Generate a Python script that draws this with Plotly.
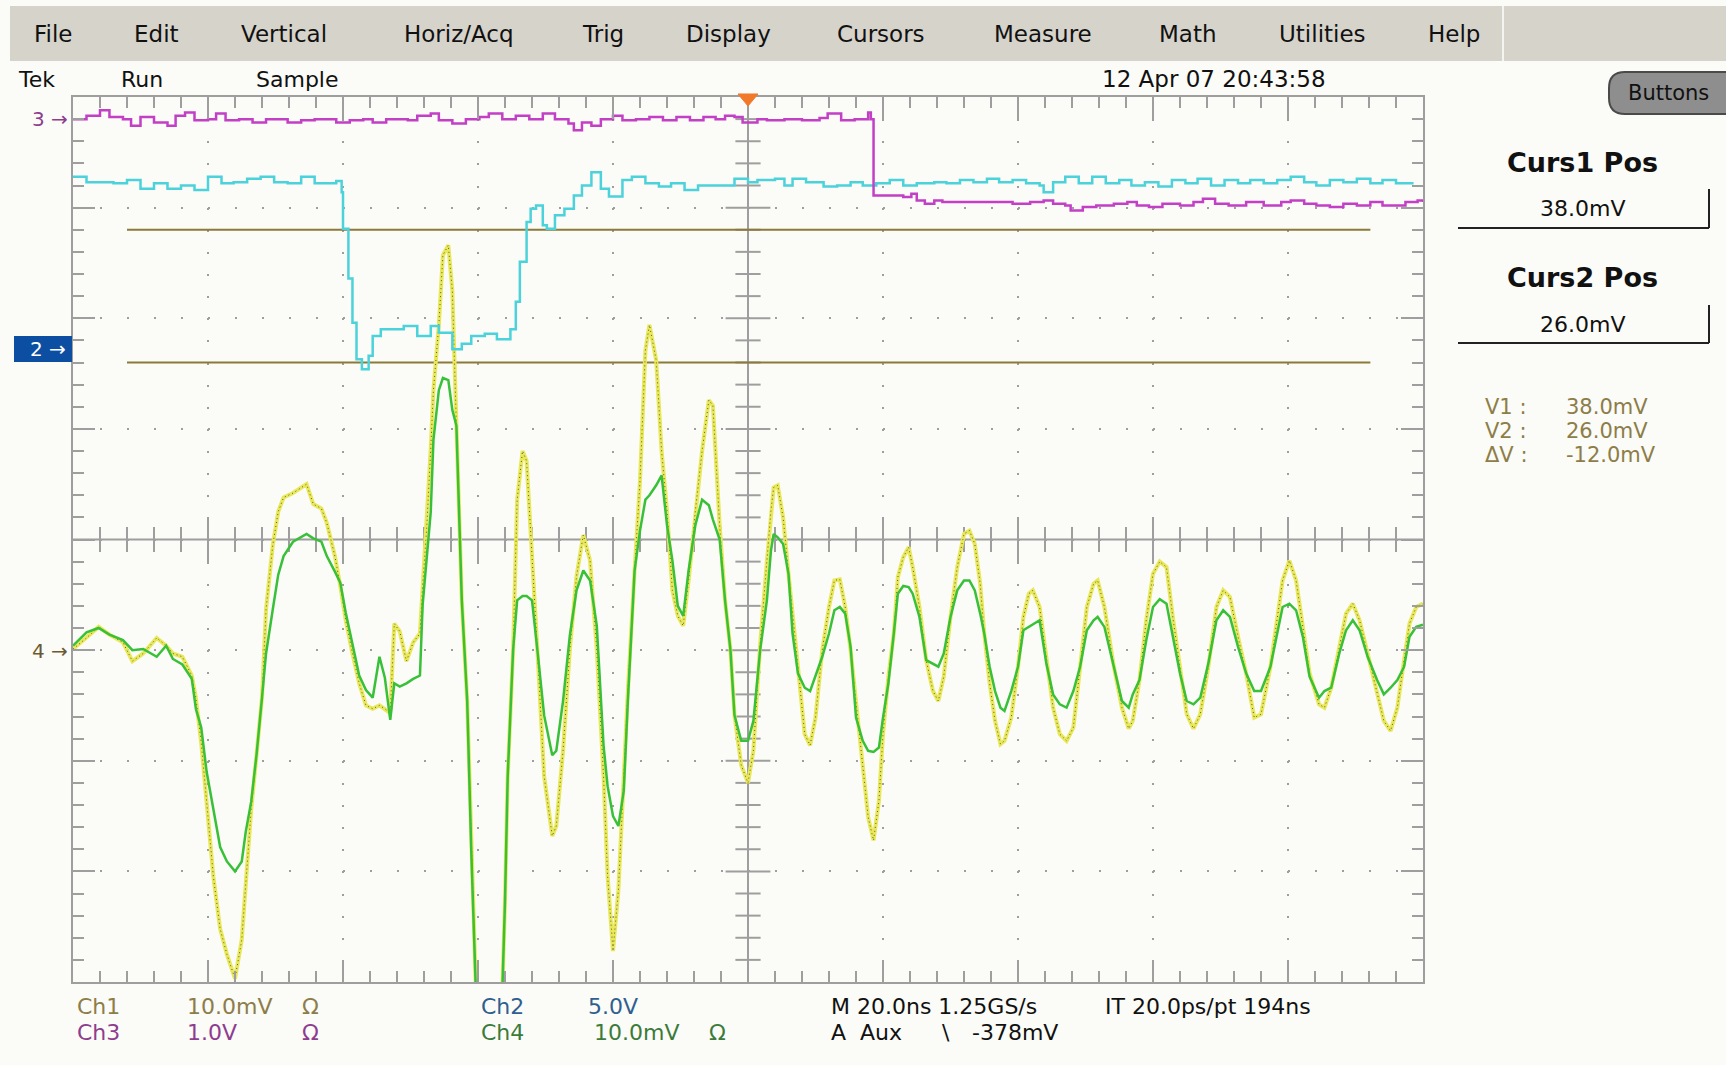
import plotly.graph_objects as go

# ---------------- data (time in screen divisions 0..10, amplitude in screen divisions) -------------
ch1_t = [0.00,0.10,0.19,0.27,0.37,0.44,0.52,0.62,0.69,0.74,
         0.81,0.88,0.91,0.95,0.99,1.04,1.09,1.14,1.20,1.25,
         1.28,1.32,1.36,1.40,1.43,1.48,1.52,1.56,1.63,1.73,
         1.78,1.84,1.88,1.94,1.98,2.02,2.07,2.12,2.17,2.22,
         2.27,2.31,2.35,2.38,2.42,2.47,2.52,2.57,2.59,2.62,
         2.65,2.67,2.71,2.74,2.78,2.81,2.84,2.88,2.92,2.95,
         2.99,3.05,3.13,3.17,3.20,3.22,3.26,3.29,3.33,3.36,
         3.40,3.44,3.49,3.55,3.58,3.63,3.68,3.73,3.78,3.83,
         3.88,3.93,3.96,4.00,4.04,4.08,4.11,4.16,4.20,4.24,
         4.27,4.32,4.36,4.40,4.44,4.48,4.52,4.56,4.61,4.66,
         4.71,4.74,4.79,4.83,4.87,4.90,4.95,5.00,5.04,5.09,
         5.14,5.17,5.19,5.22,5.26,5.30,5.33,5.37,5.42,5.46,
         5.50,5.55,5.60,5.64,5.68,5.72,5.76,5.80,5.85,5.89,
         5.93,5.97,6.00,6.04,6.08,6.11,6.15,6.19,6.22,6.27,
         6.32,6.37,6.41,6.45,6.50,6.55,6.60,6.64,6.68,6.72,
         6.75,6.79,6.83,6.87,6.90,6.95,7.00,7.04,7.08,7.11,
         7.16,7.21,7.26,7.31,7.36,7.41,7.46,7.51,7.56,7.59,
         7.64,7.71,7.77,7.82,7.85,7.90,7.95,8.00,8.05,8.10,
         8.15,8.20,8.25,8.30,8.35,8.41,8.47,8.52,8.57,8.63,
         8.69,8.75,8.80,8.87,8.92,8.96,9.01,9.06,9.11,9.16,
         9.23,9.27,9.32,9.38,9.43,9.48,9.53,9.59,9.66,9.71,
         9.76,9.81,9.86,9.90,9.95,10.0]
ch1_v = [-0.99,-0.89,-0.79,-0.86,-0.93,-1.10,-1.03,-0.89,-0.96,-1.03,
         -1.06,-1.23,-1.43,-1.84,-2.37,-3.05,-3.52,-3.75,-3.97,-3.62,
         -3.11,-2.44,-1.94,-1.43,-0.63,-0.05,0.25,0.38,0.42,0.50,
         0.32,0.28,0.15,-0.15,-0.42,-0.73,-1.03,-1.30,-1.50,-1.53,
         -1.50,-1.53,-1.57,-0.76,-0.83,-1.10,-0.93,-0.85,-0.42,0.10,
         0.82,1.35,1.94,2.57,2.66,2.25,1.03,-0.55,-1.46,-2.81,
         -4.3,-5.0,-5.0,-4.5,-3.27,-2.14,-1.00,0.36,0.80,0.71,
         -0.10,-1.00,-2.14,-2.68,-2.59,-1.91,-1.00,-0.33,0.04,-0.19,
         -1.00,-2.14,-3.04,-3.72,-3.17,-2.14,-1.37,-0.28,0.53,1.71,
         1.94,1.62,0.80,0.26,-0.46,-0.69,-0.78,-0.37,0.26,0.80,
         1.26,1.21,0.13,-0.55,-1.00,-1.59,-2.04,-2.20,-1.91,-0.95,
         -0.20,0.26,0.47,0.49,0.20,-0.31,-0.70,-1.15,-1.76,-1.86,
         -1.61,-1.00,-0.61,-0.37,-0.36,-0.61,-1.00,-1.46,-2.06,-2.51,
         -2.72,-2.36,-1.76,-1.24,-0.85,-0.34,-0.16,-0.07,-0.25,-0.61,
         -1.09,-1.37,-1.46,-1.24,-0.70,-0.25,0.05,0.08,-0.04,-0.40,
         -0.85,-1.30,-1.64,-1.85,-1.82,-1.61,-1.15,-0.70,-0.49,-0.46,
         -0.61,-1.09,-1.52,-1.76,-1.82,-1.70,-1.15,-0.61,-0.40,-0.37,
         -0.61,-1.15,-1.52,-1.71,-1.64,-1.27,-0.73,-0.31,-0.20,-0.25,
         -0.73,-1.18,-1.58,-1.71,-1.58,-1.15,-0.61,-0.46,-0.52,-0.88,
         -1.21,-1.61,-1.58,-1.15,-0.73,-0.37,-0.19,-0.37,-0.79,-1.21,
         -1.49,-1.52,-1.34,-0.97,-0.67,-0.58,-0.73,-1.03,-1.40,-1.64,
         -1.73,-1.52,-1.09,-0.76,-0.61,-0.58]
ch4_t = ch1_t
ch4_v = [-0.96,-0.84,-0.80,-0.86,-0.91,-1.00,-0.99,-1.06,-0.96,-1.08,
         -1.13,-1.26,-1.53,-1.70,-2.10,-2.44,-2.78,-2.91,-3.00,-2.91,
         -2.64,-2.37,-1.94,-1.43,-1.03,-0.63,-0.32,-0.15,-0.02,0.05,
         0.01,-0.02,-0.15,-0.29,-0.39,-0.66,-0.96,-1.23,-1.36,-1.43,
         -1.06,-1.25,-1.63,-1.30,-1.33,-1.30,-1.26,-1.23,-0.59,-0.20,
         0.25,0.90,1.35,1.46,1.44,1.17,1.03,-0.55,-1.46,-2.81,
         -4.3,-5.0,-5.0,-4.5,-3.27,-2.14,-1.00,-0.55,-0.51,-0.51,
         -0.55,-1.00,-1.59,-1.95,-1.91,-1.46,-0.87,-0.46,-0.28,-0.37,
         -0.78,-1.86,-2.23,-2.50,-2.59,-2.27,-1.46,-0.28,0.08,0.36,
         0.40,0.49,0.58,0.13,-0.19,-0.60,-0.69,-0.28,0.13,0.36,
         0.31,0.18,0.00,-0.55,-1.00,-1.59,-1.82,-1.82,-1.64,-1.00,
         -0.55,-0.10,0.05,0.02,-0.04,-0.31,-0.85,-1.21,-1.34,-1.37,
         -1.24,-1.06,-0.85,-0.64,-0.61,-0.67,-0.97,-1.61,-1.82,-1.91,
         -1.92,-1.88,-1.61,-1.30,-0.85,-0.49,-0.42,-0.43,-0.49,-0.70,
         -1.09,-1.12,-1.15,-1.03,-0.70,-0.46,-0.37,-0.37,-0.46,-0.67,
         -0.85,-1.15,-1.37,-1.52,-1.55,-1.37,-1.15,-0.82,-0.79,-0.76,
         -0.73,-1.12,-1.40,-1.49,-1.52,-1.37,-1.15,-0.82,-0.73,-0.70,
         -0.79,-1.15,-1.46,-1.52,-1.40,-1.27,-0.91,-0.61,-0.54,-0.58,
         -0.88,-1.21,-1.46,-1.49,-1.43,-1.12,-0.73,-0.64,-0.70,-0.97,
         -1.21,-1.37,-1.37,-1.15,-0.85,-0.61,-0.58,-0.64,-0.88,-1.24,
         -1.43,-1.37,-1.34,-1.03,-0.82,-0.73,-0.82,-1.06,-1.27,-1.40,
         -1.34,-1.27,-1.15,-0.88,-0.79,-0.77]
ch3_t = [0.00,0.10,0.20,0.27,0.37,0.43,0.50,0.60,0.70,0.76,
         0.83,0.90,1.00,1.06,1.13,1.23,1.33,1.43,1.52,1.59,
         1.69,1.79,1.89,1.95,2.05,2.15,2.22,2.32,2.42,2.48,
         2.55,2.65,2.71,2.81,2.91,3.01,3.08,3.18,3.28,3.38,
         3.48,3.57,3.67,3.71,3.77,3.84,3.91,4.00,4.07,4.17,
         4.27,4.37,4.47,4.57,4.67,4.76,4.83,4.90,4.96,5.07,
         5.14,5.27,5.40,5.53,5.59,5.69,5.79,5.89,5.91,5.93,
         6.05,6.15,6.21,6.25,6.31,6.38,6.44,6.57,6.70,6.83,
         6.96,7.09,7.19,7.26,7.35,7.39,7.48,7.58,7.71,7.81,
         7.88,7.97,8.07,8.20,8.30,8.37,8.46,8.56,8.69,8.82,
         8.95,9.02,9.12,9.21,9.31,9.41,9.51,9.61,9.70,9.80,
         9.87,9.96,10.0]
ch3_v = [3.80,3.83,3.88,3.82,3.80,3.74,3.82,3.77,3.74,3.83,
         3.86,3.79,3.80,3.85,3.79,3.80,3.77,3.80,3.80,3.77,
         3.79,3.80,3.80,3.77,3.79,3.80,3.77,3.80,3.80,3.79,
         3.83,3.85,3.79,3.76,3.80,3.82,3.85,3.80,3.83,3.80,
         3.85,3.80,3.76,3.70,3.77,3.74,3.80,3.83,3.79,3.80,
         3.82,3.79,3.82,3.79,3.82,3.80,3.83,3.82,3.77,3.80,
         3.79,3.80,3.79,3.81,3.85,3.79,3.80,3.86,3.80,3.11,
         3.11,3.095,3.125,3.065,3.035,3.065,3.05,3.05,3.05,3.05,
         3.035,3.05,3.065,3.035,3.02,2.975,3.005,3.02,3.035,3.05,
         3.02,3.005,3.035,3.02,3.05,3.08,3.035,3.02,3.05,3.02,
         3.05,3.065,3.035,3.02,3.005,3.035,3.02,3.05,3.02,3.02,
         3.05,3.065,3.05]
ch2_t = [0.00,0.10,0.20,0.30,0.40,0.50,0.60,0.70,0.80,0.90,
         1.00,1.10,1.19,1.29,1.39,1.49,1.59,1.69,1.79,1.89,
         1.95,1.99,2.00,2.04,2.07,2.10,2.14,2.19,2.22,2.28,
         2.38,2.45,2.55,2.65,2.71,2.81,2.88,2.95,3.05,3.14,
         3.21,3.24,3.28,3.31,3.36,3.39,3.43,3.48,3.51,3.57,
         3.64,3.71,3.77,3.84,3.91,3.97,4.07,4.14,4.24,4.34,
         4.43,4.53,4.63,4.73,4.83,4.90,5.00,5.07,5.20,5.27,
         5.33,5.43,5.56,5.66,5.76,5.85,5.95,6.05,6.15,6.25,
         6.38,6.47,6.57,6.67,6.77,6.86,6.96,7.06,7.16,7.19,
         7.26,7.35,7.45,7.55,7.65,7.75,7.84,7.94,8.04,8.14,
         8.24,8.33,8.43,8.53,8.63,8.72,8.82,8.92,9.02,9.12,
         9.21,9.31,9.41,9.51,9.61,9.70,9.80,9.93]
ch2_v = [3.28,3.23,3.23,3.22,3.25,3.17,3.22,3.17,3.20,3.16,
         3.28,3.22,3.23,3.26,3.28,3.23,3.22,3.28,3.22,3.22,
         3.24,3.14,2.81,2.36,1.96,1.63,1.54,1.66,1.84,1.90,
         1.90,1.93,1.84,1.93,1.87,1.72,1.77,1.84,1.86,1.81,
         1.81,1.90,2.15,2.51,2.87,2.99,3.02,2.84,2.81,2.93,
         2.99,3.11,3.20,3.32,3.17,3.10,3.25,3.28,3.22,3.19,
         3.22,3.16,3.20,3.20,3.20,3.26,3.23,3.25,3.26,3.20,
         3.26,3.23,3.19,3.20,3.23,3.20,3.22,3.25,3.20,3.22,
         3.23,3.22,3.25,3.23,3.26,3.23,3.25,3.22,3.20,3.14,
         3.23,3.28,3.22,3.28,3.22,3.25,3.20,3.23,3.19,3.25,
         3.22,3.26,3.20,3.25,3.22,3.25,3.22,3.25,3.28,3.23,
         3.20,3.25,3.23,3.26,3.22,3.25,3.22,3.22]

cursor_levels = [2.8, 1.6]          # Curs1 (38.0 mV) and Curs2 (26.0 mV) on Ch1
cursor_span = [0.4, 9.61]

menu_items = ["File", "Edit", "Vertical", "Horiz/Acq", "Trig", "Display",
              "Cursors", "Measure", "Math", "Utilities", "Help"]
menu_x = [53, 156, 284, 459, 603, 728, 881, 1043, 1188, 1322, 1454]

# ---------------- geometry helpers ----------------
W, H = 1726, 1065
PL, PR, PT, PB = 73, 1423, 97, 982


def px(x):
    return (x - PL) / (PR - PL)


def py(y):
    return (PB - y) / (PB - PT)


GRID = "#9e9e9e"
FONT = "DejaVu Sans"

fig = go.Figure()

# center crosshair with ticks
fig.add_trace(go.Scatter(x=[0, 10], y=[0, 0], mode="lines", line=dict(color=GRID, width=2), hoverinfo="skip"))
fig.add_trace(go.Scatter(x=[5, 5], y=[-4, 4], mode="lines", line=dict(color=GRID, width=2), hoverinfo="skip"))
minor_x = [i * 0.2 for i in range(1, 50) if i % 5]
major_x = [float(i) for i in range(1, 10) if i != 5]
minor_y = [-4 + i * 0.2 for i in range(1, 40) if i % 5]
major_y = [float(i) for i in range(-3, 4) if i != 0]
tick_mk = dict(color=GRID, line=dict(color=GRID, width=2))
fig.add_trace(go.Scatter(x=minor_x, y=[0] * len(minor_x), mode="markers",
                         marker=dict(symbol="line-ns", size=18, **tick_mk), hoverinfo="skip"))
fig.add_trace(go.Scatter(x=major_x, y=[0] * len(major_x), mode="markers",
                         marker=dict(symbol="line-ns", size=32, **tick_mk), hoverinfo="skip"))
fig.add_trace(go.Scatter(x=[5] * len(minor_y), y=minor_y, mode="markers",
                         marker=dict(symbol="line-ew", size=18, **tick_mk), hoverinfo="skip"))
fig.add_trace(go.Scatter(x=[5] * len(major_y), y=major_y, mode="markers",
                         marker=dict(symbol="line-ew", size=32, **tick_mk), hoverinfo="skip"))

# cursors
for lv in cursor_levels:
    fig.add_trace(go.Scatter(x=cursor_span, y=[lv, lv], mode="lines",
                             line=dict(color="#8b7a3a", width=2), hoverinfo="skip"))

# waveforms
fig.add_trace(go.Scatter(x=ch1_t, y=ch1_v, mode="lines", line=dict(color="#e8e85a", width=4), name="Ch1"))
fig.add_trace(go.Scatter(x=ch1_t, y=ch1_v, mode="lines", line=dict(color="#5c5c30", width=1, dash="1px,3px"), hoverinfo="skip"))
fig.add_trace(go.Scatter(x=ch2_t, y=ch2_v, mode="lines", line=dict(color="#4cd2da", width=2.5, shape="hv"), name="Ch2"))
fig.add_trace(go.Scatter(x=ch3_t, y=ch3_v, mode="lines", line=dict(color="#c23fc6", width=2.5, shape="hv"), name="Ch3"))
fig.add_trace(go.Scatter(x=ch4_t, y=ch4_v, mode="lines", line=dict(color="#38c038", width=2.5), name="Ch4"))

ax_common = dict(showticklabels=False, ticks="inside", tickwidth=2, tickcolor=GRID, ticklen=22,
                 showline=True, linecolor=GRID, linewidth=2, mirror="ticks", zeroline=False,
                 showgrid=True, gridcolor=GRID, gridwidth=2, dtick=1, tick0=0, fixedrange=True)
fig.update_xaxes(range=[0, 10], griddash="2px,20.125px",
                 minor=dict(dtick=0.2, tick0=0, ticks="inside", ticklen=11, tickwidth=2, tickcolor=GRID, showgrid=False),
                 **ax_common)
fig.update_yaxes(range=[-4, 4], griddash="2px,25px",
                 minor=dict(dtick=0.2, tick0=0, ticks="inside", ticklen=11, tickwidth=2, tickcolor=GRID, showgrid=False),
                 **ax_common)

shapes = []
ann = []


def txt(x, y, s, size=22, color="#111111", anchor="left", bold=False):
    ann.append(dict(xref="paper", yref="paper", x=px(x), y=py(y), text=("<b>%s</b>" % s) if bold else s,
                    showarrow=False, xanchor=anchor, yanchor="middle",
                    font=dict(family=FONT, size=size, color=color)))


def rect(x0, y0, x1, y1, fill, line=None, lw=0):
    shapes.append(dict(type="rect", xref="paper", yref="paper", x0=px(x0), x1=px(x1), y0=py(y1), y1=py(y0),
                       fillcolor=fill, line=dict(color=line or fill, width=lw), layer="above"))


def seg(x0, y0, x1, y1, color, w=2):
    shapes.append(dict(type="line", xref="paper", yref="paper", x0=px(x0), x1=px(x1), y0=py(y0), y1=py(y1),
                       line=dict(color=color, width=w), layer="above"))


# menu bar
rect(10, 6, W, 61, "#d6d3cb")
seg(1503, 6, 1503, 61, "#f4f4f0", 2)
for s, x in zip(menu_items, menu_x):
    txt(x, 34, s, size=23, anchor="center")

# status row
txt(16, 79, "Tek", size=22)
txt(119, 79, "Run", size=22)
txt(254, 79, "Sample", size=22)
txt(1214, 79, "12 Apr 07 20:43:58", size=23, anchor="center")

# Buttons (rounded)
bx0, by0, bx1, by1, r = 1609, 72, 1740, 114, 16
pts = [("M", bx0 + r, by0), ("L", bx1 - r, by0), ("Q", bx1, by0, bx1, by0 + r), ("L", bx1, by1 - r),
       ("Q", bx1, by1, bx1 - r, by1), ("L", bx0 + r, by1), ("Q", bx0, by1, bx0, by1 - r),
       ("L", bx0, by0 + r), ("Q", bx0, by0, bx0 + r, by0)]
path = ""
for p in pts:
    if p[0] == "Q":
        path += "Q%.5f,%.5f %.5f,%.5f " % (px(p[1]), py(p[2]), px(p[3]), py(p[4]))
    else:
        path += "%s%.5f,%.5f " % (p[0], px(p[1]), py(p[2]))
shapes.append(dict(type="path", xref="paper", yref="paper", path=path + "Z", fillcolor="#8e8e8e",
                   line=dict(color="#4a4a4a", width=2), layer="above"))
txt(1668, 93, "Buttons", size=21, anchor="center")

# cursor readouts
txt(1582, 162, "Curs1 Pos", size=27, anchor="center", bold=True)
txt(1582, 208, "38.0mV", size=22, anchor="center")
seg(1458, 228, 1709, 228, "#222222", 2)
seg(1709, 189, 1709, 228, "#222222", 2)
txt(1582, 277, "Curs2 Pos", size=27, anchor="center", bold=True)
txt(1582, 324, "26.0mV", size=22, anchor="center")
seg(1458, 343, 1709, 343, "#222222", 2)
seg(1709, 305, 1709, 343, "#222222", 2)
OL = "#8d7d48"
for y, lab, val in [(407, "V1 :", "38.0mV"), (431, "V2 :", "26.0mV"), (455, "\u0394V :", "-12.0mV")]:
    txt(1483, y, lab, size=21, color=OL)
    txt(1564, y, val, size=21, color=OL)

# channel ground markers
txt(70, 119, "3 \u2192", size=20, color="#8e3d8e", anchor="right")
rect(14, 336, 72, 362, "#0b4ea2")
txt(68, 349, "2 \u2192", size=20, color="#ffffff", anchor="right")
txt(70, 651, "4 \u2192", size=20, color="#6b5a30", anchor="right")

# trigger position marker
tri = "M%.5f,%.5f L%.5f,%.5f L%.5f,%.5f Z" % (px(738), py(94), px(758), py(94), px(748), py(106))
shapes.append(dict(type="path", xref="paper", yref="paper", path=tri, fillcolor="#f07a2a",
                   line=dict(color="#f07a2a", width=1), layer="above"))

# bottom readouts
txt(75, 1006, "Ch1", color=OL)
txt(185, 1006, "10.0mV", color=OL)
txt(300, 1006, "\u03a9", color=OL)
txt(75, 1032, "Ch3", color="#8e3d8e")
txt(185, 1032, "1.0V", color="#8e3d8e")
txt(300, 1032, "\u03a9", color="#8e3d8e")
txt(479, 1006, "Ch2", color="#2f5f90")
txt(586, 1006, "5.0V", color="#2f5f90")
txt(479, 1032, "Ch4", color="#3b7b3b")
txt(592, 1032, "10.0mV", color="#3b7b3b")
txt(707, 1032, "\u03a9", color="#3b7b3b")
txt(829, 1006, "M 20.0ns 1.25GS/s", color="#111111")
txt(1103, 1006, "IT 20.0ps/pt 194ns", color="#111111")
txt(829, 1032, "A  Aux", color="#111111")
txt(940, 1032, "\\", color="#111111")
txt(970, 1032, "-378mV", color="#111111")

fig.update_layout(width=W, height=H, margin=dict(l=PL, r=W - PR, t=PT, b=H - PB, pad=0),
                  paper_bgcolor="#fbfbf7", plot_bgcolor="#fbfbf7", showlegend=False,
                  shapes=shapes, annotations=ann)

fig.write_html("out.html", config={"displayModeBar": False},
               post_script="document.body.style.margin='0';document.body.style.overflow='hidden';")
